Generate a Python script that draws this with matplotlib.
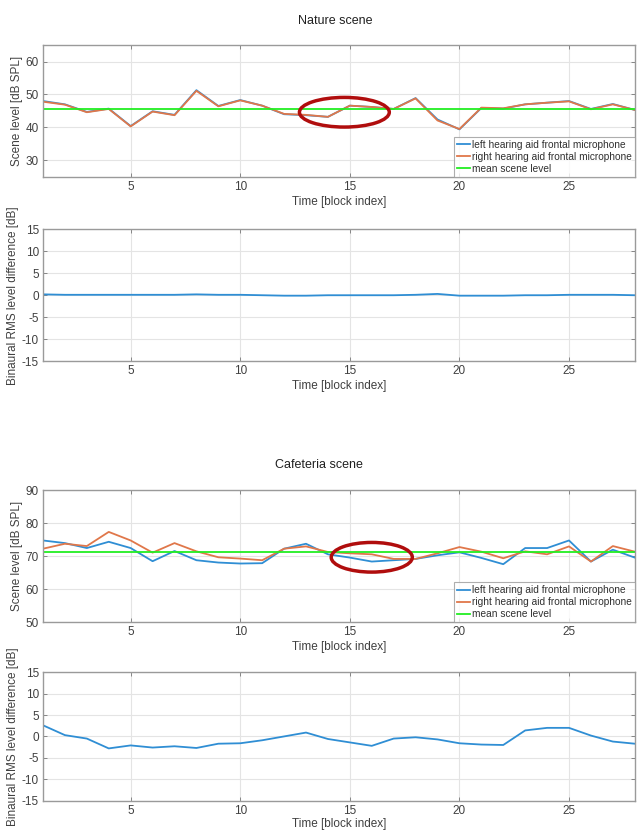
import matplotlib
matplotlib.use("Agg")
import matplotlib.pyplot as plt
from matplotlib.patches import Ellipse

plt.rcParams['font.family'] = ['Liberation Sans', 'DejaVu Sans']
plt.rcParams['axes.unicode_minus'] = False

blocks = list(range(1, 29))

nature_left = [48.0, 47.0, 44.7, 45.7, 40.4, 44.9, 43.8, 51.3, 46.5, 48.3, 46.6, 44.0, 43.7, 43.2,
               46.6, 46.2, 45.6, 48.9, 42.4, 39.4, 45.9, 45.7, 47.0, 47.5, 48.0, 45.6, 47.1, 45.3]
nature_diff = [0.2, 0.1, 0.1, 0.1, 0.1, 0.1, 0.1, 0.2, 0.1, 0.1, 0.0, -0.1, -0.1, 0.0,
               0.0, 0.0, 0.0, 0.1, 0.3, -0.1, -0.1, -0.1, 0.0, 0.0, 0.1, 0.1, 0.1, 0.0]
nature_right = [l - d for l, d in zip(nature_left, nature_diff)]
nature_mean = 45.7

cafe_left = [74.8, 74.0, 72.5, 74.4, 72.5, 68.5, 71.6, 68.8, 68.1, 67.8, 67.9, 72.3, 73.8, 70.6,
             69.6, 68.4, 68.8, 69.2, 70.3, 71.2, 69.5, 67.6, 72.5, 72.5, 74.8, 68.4, 72.0, 69.6]
cafe_right = [72.3, 73.8, 73.1, 77.4, 74.8, 71.1, 74.0, 71.5, 69.7, 69.3, 68.8, 72.3, 73.0, 71.3,
              70.9, 70.6, 69.2, 69.2, 70.9, 72.8, 71.4, 69.4, 71.5, 70.6, 73.0, 68.4, 73.1, 71.4]
cafe_diff = [2.6, 0.3, -0.5, -2.8, -2.1, -2.6, -2.3, -2.7, -1.7, -1.6, -0.9, 0.0, 0.9, -0.6,
             -1.4, -2.2, -0.5, -0.2, -0.7, -1.6, -1.9, -2.0, 1.4, 2.0, 2.0, 0.2, -1.2, -1.7]
cafe_mean = 71.2

xticks = [5, 10, 15, 20, 25]
level_label = "Scene level [dB SPL]"
diff_label = "Binaural RMS level difference [dB]"
time_label = "Time [block index]"
legend_labels = ["left hearing aid frontal microphone",
                 "right hearing aid frontal microphone",
                 "mean scene level"]

C_BLUE = '#2f8ed4'
C_ORANGE = '#e0774a'
C_GREEN = '#22ee22'
C_RED = '#b00d0d'
SPINE = '#9a9a9a'
TXT = '#404040'

fig = plt.figure(figsize=(6.37, 8.34), dpi=100)
L, W, H = 0.0675, 0.929, 0.158
ax1 = fig.add_axes([L, 0.788, W, H])
ax2 = fig.add_axes([L, 0.567, W, H])
ax3 = fig.add_axes([L, 0.254, W, H])
ax4 = fig.add_axes([L, 0.040, W, 0.154])


def style(ax, ylim, yticks, ylabel, lpad=2):
    ax.set_xlim(1, 28)
    ax.set_ylim(*ylim)
    ax.set_xticks(xticks)
    ax.set_yticks(yticks)
    ax.grid(True, color='#e4e4e4', lw=0.8)
    ax.set_axisbelow(True)
    for s in ax.spines.values():
        s.set_color(SPINE)
        s.set_linewidth(1.0)
    ax.tick_params(direction='in', top=True, right=True, length=3, width=0.6,
                   color='#777777', labelsize=8.5, labelcolor=TXT, pad=3)
    ax.set_xlabel(time_label, fontsize=8.5, color=TXT, labelpad=lpad)
    ax.set_ylabel(ylabel, fontsize=8.5, color=TXT, labelpad=2)


def level_panel(ax, left, right, mean, ylim, yticks):
    ax.plot(blocks, left, color=C_BLUE, lw=1.3, label=legend_labels[0])
    ax.plot(blocks, right, color=C_ORANGE, lw=1.3, label=legend_labels[1])
    ax.axhline(mean, color=C_GREEN, lw=1.3, label=legend_labels[2])
    style(ax, ylim, yticks, level_label)
    leg = ax.legend(loc='lower right', fontsize=7.3,
                    frameon=True, fancybox=False,
                    borderpad=0.3, labelspacing=0.2, handlelength=1.3, handletextpad=0.2,
                    borderaxespad=0.0)
    leg.get_frame().set_edgecolor('#9a9a9a')
    leg.get_frame().set_linewidth(0.8)
    for t in leg.get_texts():
        t.set_color('#303030')


level_panel(ax1, nature_left, nature_right, nature_mean, (25, 65), [30, 40, 50, 60])
ax2.plot(blocks, nature_diff, color=C_BLUE, lw=1.3)
style(ax2, (-15, 15), [-15, -10, -5, 0, 5, 10, 15], diff_label)

level_panel(ax3, cafe_left, cafe_right, cafe_mean, (50, 90), [50, 60, 70, 80, 90])
ax4.plot(blocks, cafe_diff, color=C_BLUE, lw=1.3)
style(ax4, (-15, 15), [-15, -10, -5, 0, 5, 10, 15], diff_label, lpad=1)

ax1.add_patch(Ellipse((14.75, 44.6), 4.1, 9.0, fill=False, edgecolor=C_RED, lw=2.5, zorder=5))
ax3.add_patch(Ellipse((16.0, 69.7), 3.7, 9.0, fill=False, edgecolor=C_RED, lw=2.5, zorder=5))

fig.text(0.526, 0.975, "Nature scene", ha='center', va='center', fontsize=9, color='#202020')
fig.text(0.500, 0.442, "Cafeteria scene", ha='center', va='center', fontsize=9, color='#202020')

fig.savefig("out.png", dpi=100)
